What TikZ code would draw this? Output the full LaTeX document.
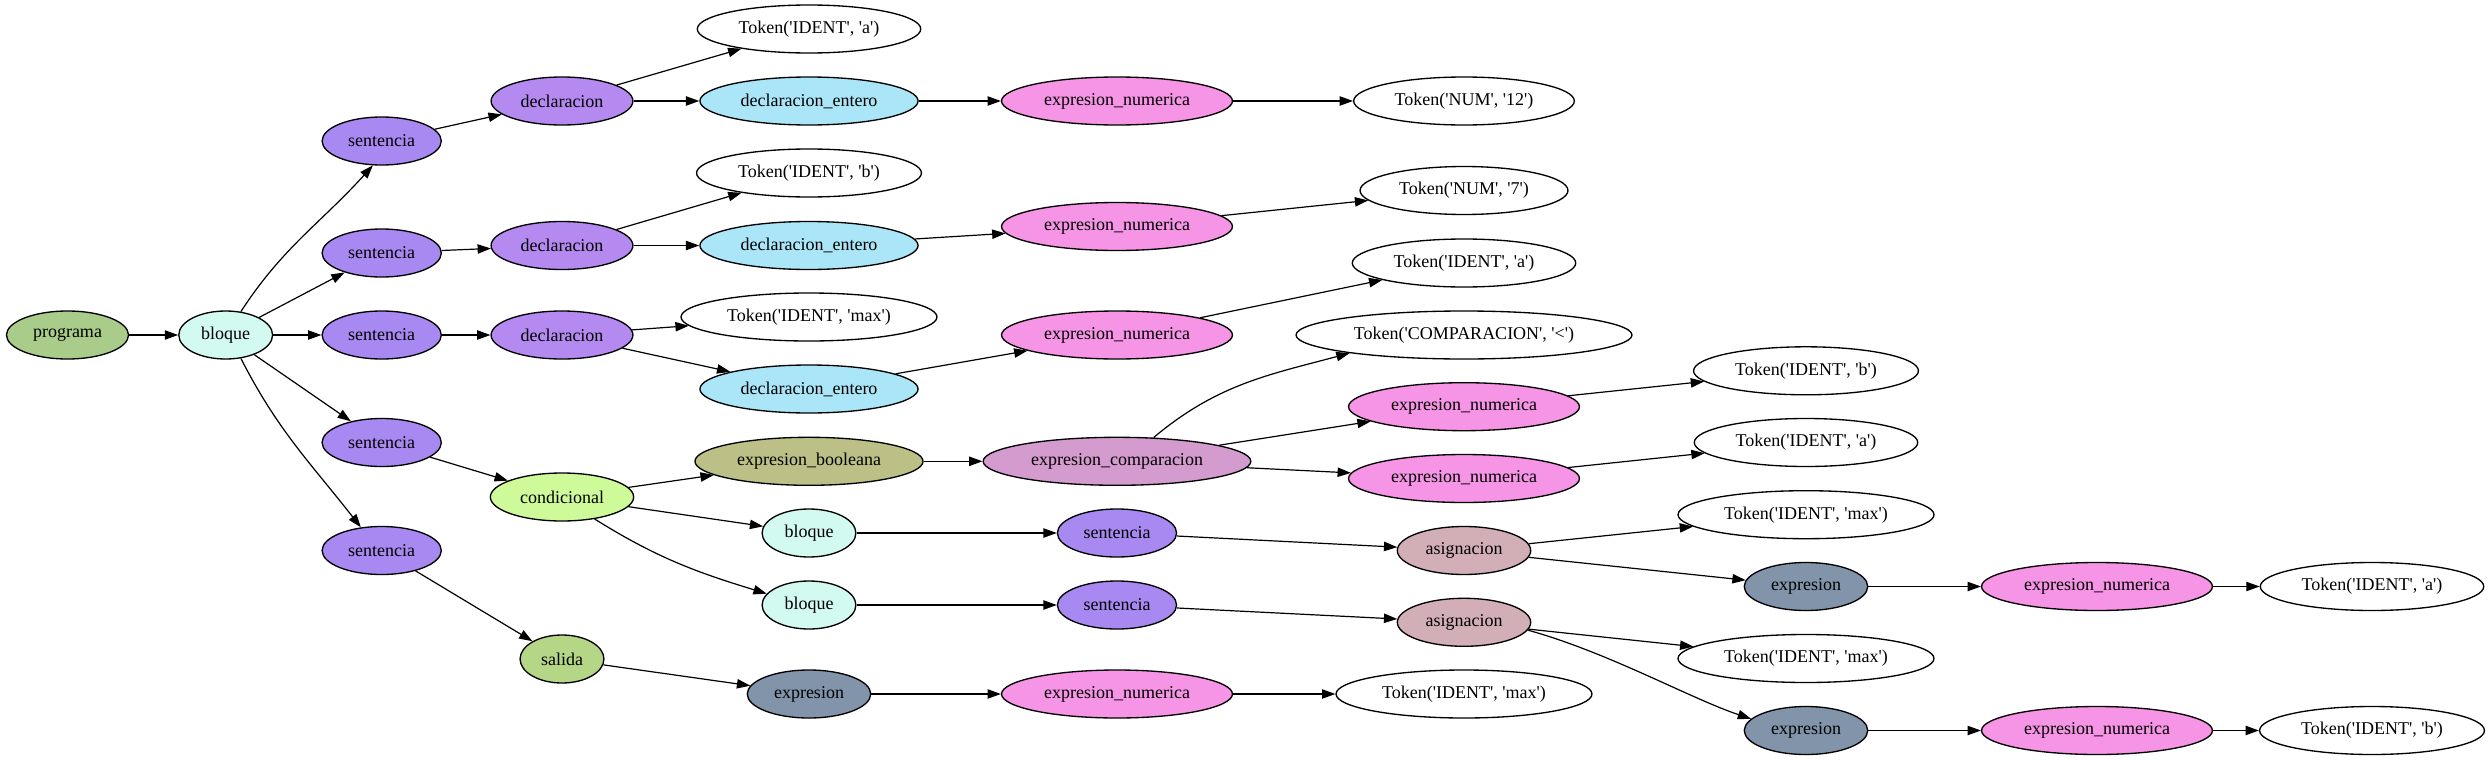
\documentclass[tikz,border=0pt]{standalone}
\usepackage{fontspec}
\setmainfont{Liberation Serif}
\usetikzlibrary{shapes.geometric,arrows.meta}
\definecolor{cProg}{RGB}{169,204,139}
\definecolor{cBloque}{RGB}{210,250,240}
\definecolor{cSent}{RGB}{168,137,242}
\definecolor{cDecl}{RGB}{180,138,240}
\definecolor{cDeclEnt}{RGB}{170,230,248}
\definecolor{cExpNum}{RGB}{246,148,230}
\definecolor{cExpBool}{RGB}{188,192,135}
\definecolor{cExpComp}{RGB}{212,155,206}
\definecolor{cCond}{RGB}{206,250,154}
\definecolor{cAsig}{RGB}{210,175,182}
\definecolor{cExpr}{RGB}{130,148,170}
\definecolor{cSalida}{RGB}{181,213,135}
\newcommand{\tq}{\textquotesingle}
\begin{document}
\begin{tikzpicture}[x=0.75pt,y=-0.75pt,
  nd/.style={ellipse,draw,line width=1pt,minimum height=36pt,inner xsep=6.5pt,inner ysep=0pt,font=\fontsize{13.5}{16}\selectfont},
  tok/.style={nd,fill=white},
  prog/.style={nd,fill=cProg},
  blq/.style={nd,fill=cBloque},
  sent/.style={nd,fill=cSent},
  decl/.style={nd,fill=cDecl},
  dent/.style={nd,fill=cDeclEnt},
  enum/.style={nd,fill=cExpNum},
  ebool/.style={nd,fill=cExpBool},
  ecomp/.style={nd,fill=cExpComp},
  cond/.style={nd,fill=cCond},
  asig/.style={nd,fill=cAsig},
  expr/.style={nd,fill=cExpr},
  sal/.style={nd,fill=cSalida},
  edge/.style={-{Triangle[length=10pt,width=7pt]},line width=0.9pt}]
\useasboundingbox (0,0) rectangle (2488,760);
% rank 0-3
\node[prog] (programa) at (67.5,335) {programa};
\node[blq] (bloque) at (225.7,335) {bloque};
\node[sent] (s1) at (381.7,141) {sentencia};
\node[sent] (s2) at (381.7,253) {sentencia};
\node[sent] (s3) at (381.7,335) {sentencia};
\node[sent] (s4) at (381.7,442.5) {sentencia};
\node[sent] (s5) at (381.7,550.5) {sentencia};
\node[decl] (d1) at (562,101) {declaracion};
\node[decl] (d2) at (562,245.5) {declaracion};
\node[decl] (d3) at (562,335) {declaracion};
\node[cond] (cond) at (562,497) {condicional};
\node[sal] (salida) at (562,659) {salida};
% rank 4
\node[tok] (tA1) at (809,29) {Token(\tq IDENT\tq, \tq a\tq)};
\node[dent] (de1) at (809,101) {declaracion\_entero};
\node[tok] (tB1) at (809,173) {Token(\tq IDENT\tq, \tq b\tq)};
\node[dent] (de2) at (809,245.5) {declaracion\_entero};
\node[tok] (tM1) at (809,317) {Token(\tq IDENT\tq, \tq max\tq)};
\node[dent] (de3) at (809,389) {declaracion\_entero};
\node[ebool] (eb) at (809,461.3) {expresion\_booleana};
\node[blq] (bA) at (809,533) {bloque};
\node[blq] (bB) at (809,605) {bloque};
\node[expr] (ex5) at (809,694) {expresion};
% rank 5
\node[enum] (en1) at (1117,101) {expresion\_numerica};
\node[enum] (en2) at (1117,226.5) {expresion\_numerica};
\node[enum] (en3) at (1117,335) {expresion\_numerica};
\node[ecomp] (ec) at (1117,461.3) {expresion\_comparacion};
\node[sent] (sA) at (1117,533) {sentencia};
\node[sent] (sB) at (1117,605) {sentencia};
\node[enum] (en5) at (1117,694) {expresion\_numerica};
% rank 6
\node[tok] (tN12) at (1464,101) {Token(\tq NUM\tq, \tq 12\tq)};
\node[tok] (tN7) at (1464,190.5) {Token(\tq NUM\tq, \tq 7\tq)};
\node[tok] (tA2) at (1464,263) {Token(\tq IDENT\tq, \tq a\tq)};
\node[tok] (tC) at (1464,335) {Token(\tq COMPARACION\tq, \tq <\tq)};
\node[enum] (enA) at (1464,406.7) {expresion\_numerica};
\node[enum] (enB) at (1464,478.5) {expresion\_numerica};
\node[asig] (aA) at (1464,550.5) {asignacion};
\node[asig] (aB) at (1464,622.3) {asignacion};
\node[tok] (tM4) at (1464,694) {Token(\tq IDENT\tq, \tq max\tq)};
% rank 7
\node[tok] (tB2) at (1806,370.8) {Token(\tq IDENT\tq, \tq b\tq)};
\node[tok] (tA3) at (1806,442.5) {Token(\tq IDENT\tq, \tq a\tq)};
\node[tok] (tM2) at (1806,514.7) {Token(\tq IDENT\tq, \tq max\tq)};
\node[expr] (exA) at (1806,586.5) {expresion};
\node[tok] (tM3) at (1806,658.5) {Token(\tq IDENT\tq, \tq max\tq)};
\node[expr] (exB) at (1806,730.5) {expresion};
% rank 8-9
\node[enum] (enA2) at (2097,586.5) {expresion\_numerica};
\node[enum] (enB2) at (2097,730.5) {expresion\_numerica};
\node[tok] (tA4) at (2372,586.5) {Token(\tq IDENT\tq, \tq a\tq)};
\node[tok] (tB3) at (2372,730.5) {Token(\tq IDENT\tq, \tq b\tq)};
% edges
\draw[edge] (programa) -- (bloque);
\draw[edge] (bloque.57) to[out=57,in=-132] (s1.-110);
\draw[edge] (bloque) -- (s2);
\draw[edge] (bloque) -- (s3);
\draw[edge] (bloque) -- (s4);
\draw[edge] (bloque.-57) to[out=-63,in=128] (s5.132);
\draw[edge] (s1) -- (d1);
\draw[edge] (d1) -- (tA1);
\draw[edge] (d1) -- (de1);
\draw[edge] (de1) -- (en1);
\draw[edge] (en1) -- (tN12);
\draw[edge] (s2) -- (d2);
\draw[edge] (d2) -- (tB1);
\draw[edge] (d2) -- (de2);
\draw[edge] (de2) -- (en2);
\draw[edge] (en2) -- (tN7);
\draw[edge] (s3) -- (d3);
\draw[edge] (d3) -- (tM1);
\draw[edge] (d3) -- (de3);
\draw[edge] (de3) -- (en3);
\draw[edge] (en3) -- (tA2);
\draw[edge] (s4) -- (cond);
\draw[edge] (cond) -- (eb);
\draw[edge] (cond) -- (bA);
\draw[edge] (cond.-34) to[out=-32,in=163] (bB.165);
\draw[edge] (eb) -- (ec);
\draw[edge] (ec.33) to[out=40,in=195] (tC.189);
\draw[edge] (ec) -- (enA);
\draw[edge] (ec) -- (enB);
\draw[edge] (enA) -- (tB2);
\draw[edge] (enB) -- (tA3);
\draw[edge] (bA) -- (sA);
\draw[edge] (sA) -- (aA);
\draw[edge] (aA) -- (tM2);
\draw[edge] (aA) -- (exA);
\draw[edge] (exA) -- (enA2);
\draw[edge] (enA2) -- (tA4);
\draw[edge] (bB) -- (sB);
\draw[edge] (sB) -- (aB);
\draw[edge] (aB) -- (tM3);
\draw[edge] (aB.-7) .. controls +(80,22) and +(-60,-20) .. (exB.168);
\draw[edge] (exB) -- (enB2);
\draw[edge] (enB2) -- (tB3);
\draw[edge] (s5) -- (salida);
\draw[edge] (salida) -- (ex5);
\draw[edge] (ex5) -- (en5);
\draw[edge] (en5) -- (tM4);
\end{tikzpicture}
\end{document}
